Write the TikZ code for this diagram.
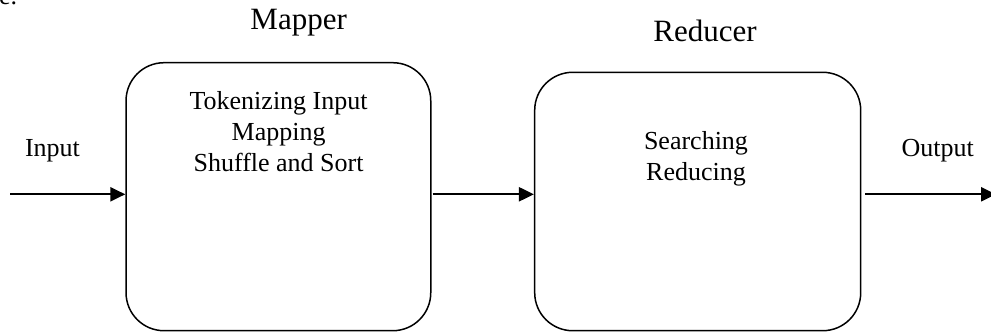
\documentclass[tikz,border=0pt]{standalone}
\usepackage{fontspec}
\setmainfont{Liberation Serif}
\usetikzlibrary{arrows.meta}
\begin{document}
\begin{tikzpicture}[x=1pt,y=-1pt,
  procbox/.style={draw=black,line width=1.5pt,rounded corners=38pt,inner sep=0pt},
  flow/.style={line width=2.2pt,-{Triangle[length=15pt,width=14pt]}},
  bodytxt/.style={anchor=base,inner sep=0pt,font=\fontsize{26}{31}\selectfont},
  titletxt/.style={anchor=base,inner sep=0pt,font=\fontsize{31}{36}\selectfont}]
\useasboundingbox (0,0) rectangle (991,333);
% clipped fragment at the top-left
\node[anchor=base west,inner sep=0pt,font=\fontsize{26}{31}\selectfont] (frag) at (-1,4) {e.};
% boxes
\node[procbox,minimum width=304.7pt,minimum height=268pt] (mapbox) at (278.4,196.7) {};
\node[procbox,minimum width=326pt,minimum height=258.4pt] (redbox) at (697.7,201.5) {};
% titles
\node[titletxt] (maptitle) at (298.7,29.3) {Mapper};
\node[titletxt] (redtitle) at (705,41.7) {Reducer};
% inner texts
\node[bodytxt] (map1) at (278.6,109.3) {Tokenizing Input};
\node[bodytxt] (map2) at (278.6,140) {Mapping};
\node[bodytxt] (map3) at (278.6,171.3) {Shuffle and Sort};
\node[bodytxt] (red1) at (696,149.3) {Searching};
\node[bodytxt] (red2) at (696,180) {Reducing};
% side labels
\node[bodytxt] (inlbl) at (52.5,156.7) {Input};
\node[bodytxt] (outlbl) at (937.8,156) {Output};
% connectors
\coordinate (instart) at (10,194.3);
\coordinate (outend) at (996,194.3);
\coordinate (midstart) at (432.7,194.3);
\draw[flow] (instart) -- (mapbox.west |- instart);
\draw[flow] (midstart) -- (redbox.west |- midstart);
\draw[flow] (redbox.east |- outend) ++(4,0) coordinate (outstart) -- (outend);
\end{tikzpicture}
\end{document}
